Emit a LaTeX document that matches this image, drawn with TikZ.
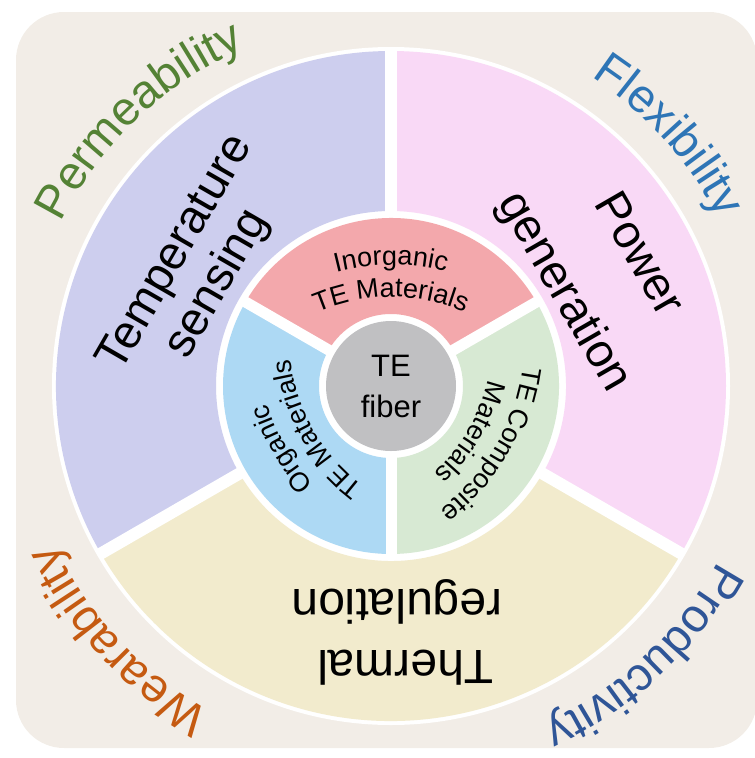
\documentclass[tikz,border=0pt]{standalone}
\usepackage{fontspec}
\setmainfont{Liberation Sans}
\usetikzlibrary{decorations.text}

% palette
\definecolor{panelbg}{RGB}{242,237,231}
\definecolor{senselav}{RGB}{205,206,238}
\definecolor{powerpink}{RGB}{249,217,246}
\definecolor{thermyellow}{RGB}{242,235,205}
\definecolor{inorgred}{RGB}{243,168,172}
\definecolor{orgblue}{RGB}{173,217,244}
\definecolor{compgreen}{RGB}{215,233,211}
\definecolor{coregray}{RGB}{192,192,194}
\definecolor{permgreen}{RGB}{84,130,53}
\definecolor{flexblue}{RGB}{46,117,182}
\definecolor{wearorange}{RGB}{197,90,17}
\definecolor{prodblue}{RGB}{47,85,151}

% type sizes
\newcommand\fsring{\fontsize{47}{55}\selectfont}
\newcommand\fsringlow{\fontsize{48}{56}\selectfont}
\newcommand\fsinner{\fontsize{27}{32}\selectfont}
\newcommand\fscore{\fontsize{31}{41}\selectfont}
\newcommand\fslabel{\fontsize{47}{55}\selectfont}

\tikzset{
  ringtext/.style={font=\fsring, text=black, inner sep=0pt, anchor=mid},
  coretext/.style={font=\fscore, text=black, inner sep=0pt, anchor=base},
  widegap/.style={white, line width=12pt},
  narrowgap/.style={white, line width=11pt},
  arctext/.style={decorate, decoration={text along path, text align=center, text={#1}}}
}

\begin{document}
\begin{tikzpicture}[x=1pt,y=1pt]
\useasboundingbox (0,0) rectangle (755,-758);
\fill[panelbg, rounded corners=48pt] (16,-12) rectangle (757,-748);

\begin{scope}[shift={(391,-386)}]
  % white disc under both rings
  \fill[white] (0,0) circle[radius=339pt];

  % outer ring: applications
  \fill[senselav] (90:175pt) arc[start angle=90,end angle=210,radius=175pt]
    -- (210:335pt) arc[start angle=210,end angle=90,radius=335pt] -- cycle;
  \fill[powerpink] (-30:175pt) arc[start angle=-30,end angle=90,radius=175pt]
    -- (90:335pt) arc[start angle=90,end angle=-30,radius=335pt] -- cycle;
  \fill[thermyellow] (210:175pt) arc[start angle=210,end angle=330,radius=175pt]
    -- (330:335pt) arc[start angle=330,end angle=210,radius=335pt] -- cycle;
  \foreach \a in {90,210,330} \draw[widegap] (\a:170pt) -- (\a:336pt);

  % inner ring: material classes
  \fill[inorgred] (30:72pt) arc[start angle=30,end angle=150,radius=72pt]
    -- (150:168pt) arc[start angle=150,end angle=30,radius=168pt] -- cycle;
  \fill[orgblue] (150:72pt) arc[start angle=150,end angle=270,radius=72pt]
    -- (270:168pt) arc[start angle=270,end angle=150,radius=168pt] -- cycle;
  \fill[compgreen] (270:72pt) arc[start angle=270,end angle=390,radius=72pt]
    -- (390:168pt) arc[start angle=390,end angle=270,radius=168pt] -- cycle;
  \foreach \a in {30,150,270} \draw[narrowgap] (\a:66pt) -- (\a:170pt);

  % core
  \fill[coregray] (0,0) circle[radius=65pt];

  % arched captions of the inner ring
  \begin{scope}[shift={(270:97pt)}]
    \path[arctext={|\fsinner|Inorganic}] (150:218pt) arc[start angle=150,end angle=30,radius=218pt];
    \path[arctext={|\fsinner|TE Materials}] (150:186pt) arc[start angle=150,end angle=30,radius=186pt];
  \end{scope}
  \begin{scope}[shift={(30:97pt)}]
    \path[arctext={|\fsinner|Organic}] (270:218pt) arc[start angle=270,end angle=150,radius=218pt];
    \path[arctext={|\fsinner|TE Materials}] (270:186pt) arc[start angle=270,end angle=150,radius=186pt];
  \end{scope}
  \begin{scope}[shift={(150:97pt)}]
    \path[arctext={|\fsinner|TE Composite}] (30:218pt) arc[start angle=30,end angle=-90,radius=218pt];
    \path[arctext={|\fsinner|Materials}] (30:186pt) arc[start angle=30,end angle=-90,radius=186pt];
  \end{scope}

  % properties around the rim
  \path[arctext={|\fslabel\color{permgreen}|Permeability}] (173.5:368pt) arc[start angle=173.5,end angle=93.5,radius=368pt];
  \path[arctext={|\fslabel\color{flexblue}|Flexibility}] (82:368pt) arc[start angle=82,end angle=2,radius=368pt];
  \path[arctext={|\fslabel\color{wearorange}|Wearability}] (263:372pt) arc[start angle=263,end angle=183,radius=372pt];
  \path[arctext={|\fslabel\color{prodblue}|Productivity}] (353:371pt) arc[start angle=353,end angle=273,radius=371pt];
\end{scope}

% outer ring captions
\node[ringtext, rotate=60] (sense1) at (184,-258) {Temperature};
\node[ringtext, rotate=60] (sense2) at (226,-289) {sensing};
\node[ringtext, rotate=-60] (power1) at (629,-260) {Power};
\node[ringtext, rotate=-60] (power2) at (555,-297) {generation};
\node[ringtext, font=\fsringlow, rotate=180] (therm1) at (405.5,-653.5) {Thermal};
\node[ringtext, font=\fsringlow, rotate=180] (therm2) at (397,-592.5) {regulation};

% core caption
\node[coretext] (core1) at (391,-376) {TE};
\node[coretext] (core2) at (391,-417) {fiber};
\end{tikzpicture}
\end{document}
